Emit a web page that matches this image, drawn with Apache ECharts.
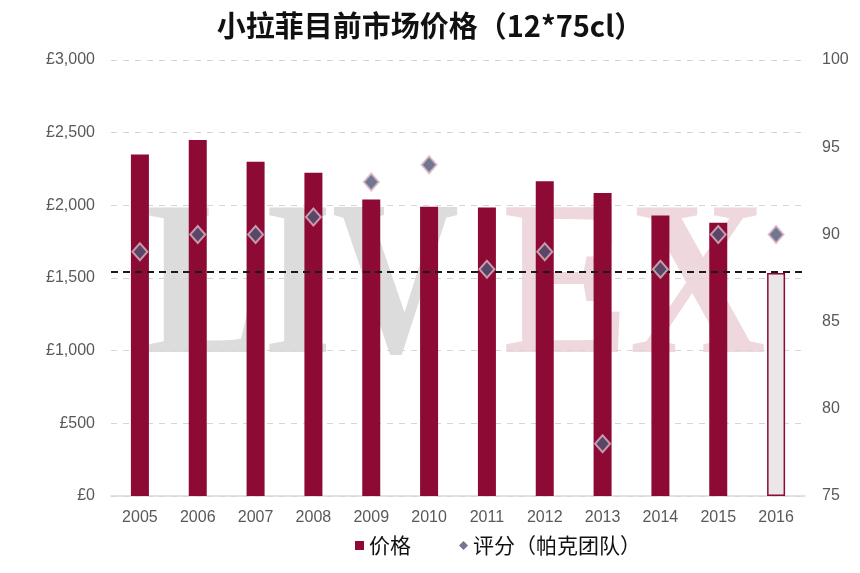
<!DOCTYPE html>
<html>
<head>
<meta charset="utf-8">
<script src="https://cdn.jsdelivr.net/npm/echarts@6/dist/echarts.min.js"></script>
<style>
  html, body { margin: 0; padding: 0; background: #fff; }
  #main { width: 860px; height: 573px; }
</style>
</head>
<body>
<div id="main"></div>
<script>
// 数据
var years = ['2005', '2006', '2007', '2008', '2009', '2010', '2011', '2012', '2013', '2014', '2015', '2016']
var prices = [2350, 2450, 2300, 2225, 2040, 1990, 1985, 2165, 2085, 1930, 1880, 1535]
var scores = [89, 90, 90, 91, 93, 94, 88, 89, 78, 88, 90, 90]
var refLine = [1540]
var priceTicks = [0, 500, 1000, 1500, 2000, 2500, 3000]
var scoreTicks = [75, 80, 85, 90, 95, 100]

var myechart = echarts.init(document.getElementById('main'))

var barColor = '#8c0a33'
var dotColor = '#4f5575'
var lastIdx = prices.length - 1

var option = {
  animation: false,
  title: {
    text: '小拉菲目前市场价格（12*75cl）',
    left: 'center',
    top: 6,
    textStyle: {
      fontFamily: 'Noto Sans CJK SC',
      fontWeight: 'bold',
      fontSize: 29,
      color: '#111'
    }
  },
  graphic: [
    {
      type: 'text',
      left: 146,
      top: 185,
      z: -1,
      scaleX: 0.8,
      style: {
        text: 'LIV',
        font: 'bold 220px "Liberation Serif", serif',
        fill: '#dcdcdc'
      }
    },
    {
      type: 'text',
      left: 503,
      top: 185,
      z: -1,
      scaleX: 0.86,
      style: {
        text: 'EX',
        font: 'bold 220px "Liberation Serif", serif',
        fill: '#eed8de'
      }
    }
  ],
  legend: {
    left: 350,
    top: 530,
    itemGap: 48,
    textStyle: {
      fontFamily: 'Noto Sans CJK SC',
      fontSize: 21,
      color: '#111'
    },
    data: [
      { name: '价格', icon: 'rect' },
      { name: '评分（帕克团队）', icon: 'diamond', itemStyle: { color: dotColor, borderWidth: 0 } }
    ],
    itemWidth: 9,
    itemHeight: 9
  },
  grid: {
    left: 111,
    right: 55,
    top: 60,
    bottom: 77
  },
  xAxis: {
    type: 'category',
    data: years,
    axisTick: { show: false },
    axisLine: { lineStyle: { color: '#d9d9d9', width: 1.5 } },
    axisLabel: {
      color: '#595959',
      fontFamily: 'Liberation Sans',
      fontSize: 16,
      margin: 14
    }
  },
  yAxis: [
    {
      type: 'value',
      min: priceTicks[0],
      max: priceTicks[priceTicks.length - 1],
      interval: 500,
      axisLine: { show: false },
      axisTick: { show: false },
      splitLine: { lineStyle: { color: '#d6d6d6', type: [6, 6] } },
      axisLabel: {
        color: '#595959',
        fontFamily: 'Liberation Sans',
        fontSize: 16,
        margin: 16,
        formatter: function (v) {
          return '£' + v.toLocaleString('en-US')
        }
      }
    },
    {
      type: 'value',
      min: scoreTicks[0],
      max: scoreTicks[scoreTicks.length - 1],
      interval: 5,
      axisLine: { show: false },
      axisTick: { show: false },
      splitLine: { show: false },
      axisLabel: {
        color: '#595959',
        fontFamily: 'Liberation Sans',
        fontSize: 16,
        margin: 17
      }
    }
  ],
  series: [
    {
      name: '价格',
      type: 'bar',
      barWidth: 18,
      itemStyle: { color: barColor },
      data: prices.map(function (v, i) {
        if (i === lastIdx) {
          return {
            value: v,
            itemStyle: { color: '#ebe7e9', borderColor: barColor, borderWidth: 1.5 }
          }
        }
        return v
      }),
      markLine: {
        silent: true,
        symbol: 'none',
        label: { show: false },
        lineStyle: { color: '#1a1a1a', type: [7, 5], width: 2 },
        data: refLine.map(function (v) { return { yAxis: v } })
      }
    },
    {
      name: '评分（帕克团队）',
      type: 'scatter',
      yAxisIndex: 1,
      symbol: 'diamond',
      symbolSize: [15, 17],
      z: 5,
      itemStyle: {
        color: dotColor,
        borderColor: '#dcb8c6',
        borderWidth: 2
      },
      data: scores
    }
  ]
}

myechart.setOption(option)
window.onresize = function () { myechart.resize() }
</script>
</body>
</html>
